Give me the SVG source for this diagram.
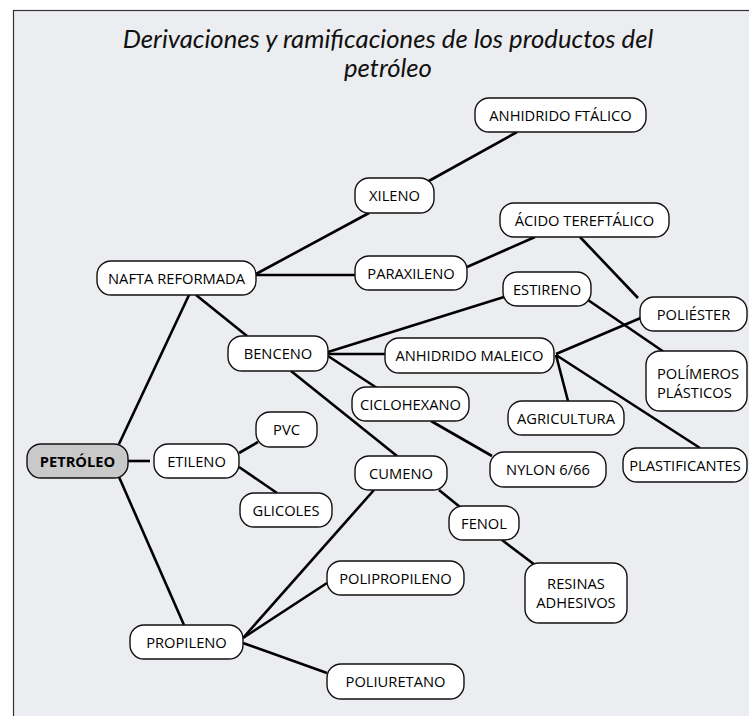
<svg xmlns="http://www.w3.org/2000/svg" width="749" height="716" viewBox="0 0 749 716">
<style>
.n rect{fill:#ffffff;stroke:#111;stroke-width:1.4}
.n text{font-family:"Open Sans","Liberation Sans",sans-serif;font-size:14.7px;font-weight:500;fill:#000;text-anchor:middle}
#petroleo rect{fill:#c9c9c9}
#petroleo text{font-weight:bold}
#conn line{stroke:#000;stroke-width:2.6;stroke-linecap:butt}
.title{font-family:Lato,"Open Sans","Liberation Sans",sans-serif;font-style:italic;font-size:25.7px;fill:#111;text-anchor:middle}
</style>
<rect x="0" y="0" width="749" height="716" fill="#ffffff"/>
<rect x="13.5" y="10.5" width="760" height="720" fill="#ecedf0" stroke="#333" stroke-width="1.2"/>
<g id="title">
<text class="title" x="388" y="48">Derivaciones y ramificaciones de los productos del</text>
<text class="title" x="388" y="77">petróleo</text>
</g>
<g id="conn">
<line x1="119" y1="444" x2="189" y2="295"/>
<line x1="128" y1="461" x2="150" y2="461"/>
<line x1="119" y1="477" x2="184" y2="625"/>
<line x1="256" y1="274" x2="369" y2="213"/>
<line x1="256" y1="275" x2="355" y2="275"/>
<line x1="196" y1="295" x2="247" y2="336"/>
<line x1="427" y1="182" x2="517" y2="132"/>
<line x1="467" y1="267" x2="535" y2="237"/>
<line x1="580" y1="237" x2="638" y2="298"/>
<line x1="328" y1="352" x2="504" y2="297"/>
<line x1="328" y1="354" x2="385" y2="354"/>
<line x1="328" y1="356" x2="377" y2="388"/>
<line x1="291" y1="371" x2="397" y2="456"/>
<line x1="588" y1="300" x2="664" y2="352"/>
<line x1="556" y1="354" x2="643" y2="317"/>
<line x1="556" y1="355" x2="568" y2="401"/>
<line x1="556" y1="355" x2="700" y2="448"/>
<line x1="431" y1="421" x2="492" y2="456"/>
<line x1="239" y1="453" x2="258" y2="442"/>
<line x1="239" y1="467" x2="277" y2="493"/>
<line x1="439" y1="490" x2="460" y2="507"/>
<line x1="374" y1="490" x2="243" y2="638"/>
<line x1="243" y1="638" x2="327" y2="583"/>
<line x1="243" y1="643" x2="327" y2="673"/>
<line x1="502" y1="540" x2="535" y2="565"/>
</g>
<g id="ftalico" class="n"><rect x="475" y="98" width="171" height="34" rx="14"/><text x="560.5" y="120.5">ANHIDRIDO FTÁLICO</text></g>
<g id="xileno" class="n"><rect x="355" y="178" width="79" height="35" rx="14"/><text x="394.5" y="201">XILENO</text></g>
<g id="acido" class="n"><rect x="500" y="203" width="169" height="34" rx="14"/><text x="584.5" y="225.5">ÁCIDO TEREFTÁLICO</text></g>
<g id="nafta" class="n"><rect x="97" y="261" width="159" height="34" rx="14"/><text x="176.5" y="283.5">NAFTA REFORMADA</text></g>
<g id="paraxileno" class="n"><rect x="355" y="256" width="112" height="34" rx="14"/><text x="411" y="278.5">PARAXILENO</text></g>
<g id="estireno" class="n"><rect x="503" y="272" width="88" height="34" rx="14"/><text x="547" y="294.5">ESTIRENO</text></g>
<g id="poliester" class="n"><rect x="640" y="297" width="107" height="34" rx="14"/><text x="693.5" y="319.5">POLIÉSTER</text></g>
<g id="benceno" class="n"><rect x="228" y="336" width="100" height="35" rx="14"/><text x="278" y="359">BENCENO</text></g>
<g id="maleico" class="n"><rect x="385" y="338" width="169" height="35" rx="14"/><text x="469.5" y="361">ANHIDRIDO MALEICO</text></g>
<g id="polimeros" class="n"><rect x="646" y="351" width="101" height="60" rx="14"/><text x="657" y="379" style="text-anchor:start">POLÍMEROS</text><text x="657" y="398" style="text-anchor:start">PLÁSTICOS</text></g>
<g id="ciclohexano" class="n"><rect x="352" y="387" width="117" height="34" rx="14"/><text x="410.5" y="409.5">CICLOHEXANO</text></g>
<g id="agricultura" class="n"><rect x="508" y="401" width="116" height="34" rx="14"/><text x="566" y="423.5">AGRICULTURA</text></g>
<g id="pvc" class="n"><rect x="256" y="412" width="61" height="35" rx="14"/><text x="286.5" y="435">PVC</text></g>
<g id="petroleo" class="n"><rect x="27" y="444" width="101" height="34" rx="14"/><text x="77.5" y="466.5">PETRÓLEO</text></g>
<g id="etileno" class="n"><rect x="154" y="444" width="85" height="34" rx="14"/><text x="196.5" y="466.5">ETILENO</text></g>
<g id="nylon" class="n"><rect x="490" y="452" width="116" height="35" rx="14"/><text x="548" y="475">NYLON 6/66</text></g>
<g id="plastificantes" class="n"><rect x="623" y="448" width="124" height="34" rx="14"/><text x="685" y="470.5">PLASTIFICANTES</text></g>
<g id="cumeno" class="n"><rect x="355" y="456" width="92" height="34" rx="14"/><text x="401" y="478.5">CUMENO</text></g>
<g id="glicoles" class="n"><rect x="240" y="493" width="92" height="34" rx="14"/><text x="286" y="515.5">GLICOLES</text></g>
<g id="fenol" class="n"><rect x="449" y="506" width="70" height="34" rx="14"/><text x="484" y="528.5">FENOL</text></g>
<g id="polipropileno" class="n"><rect x="327" y="561" width="137" height="34" rx="14"/><text x="395.5" y="583.5">POLIPROPILENO</text></g>
<g id="resinas" class="n"><rect x="525" y="563" width="102" height="60" rx="14"/><text x="576" y="589">RESINAS</text><text x="576" y="608">ADHESIVOS</text></g>
<g id="propileno" class="n"><rect x="130" y="625" width="113" height="34" rx="14"/><text x="186.5" y="647.5">PROPILENO</text></g>
<g id="poliuretano" class="n"><rect x="327" y="664" width="137" height="35" rx="14"/><text x="395.5" y="687">POLIURETANO</text></g>
</svg>
